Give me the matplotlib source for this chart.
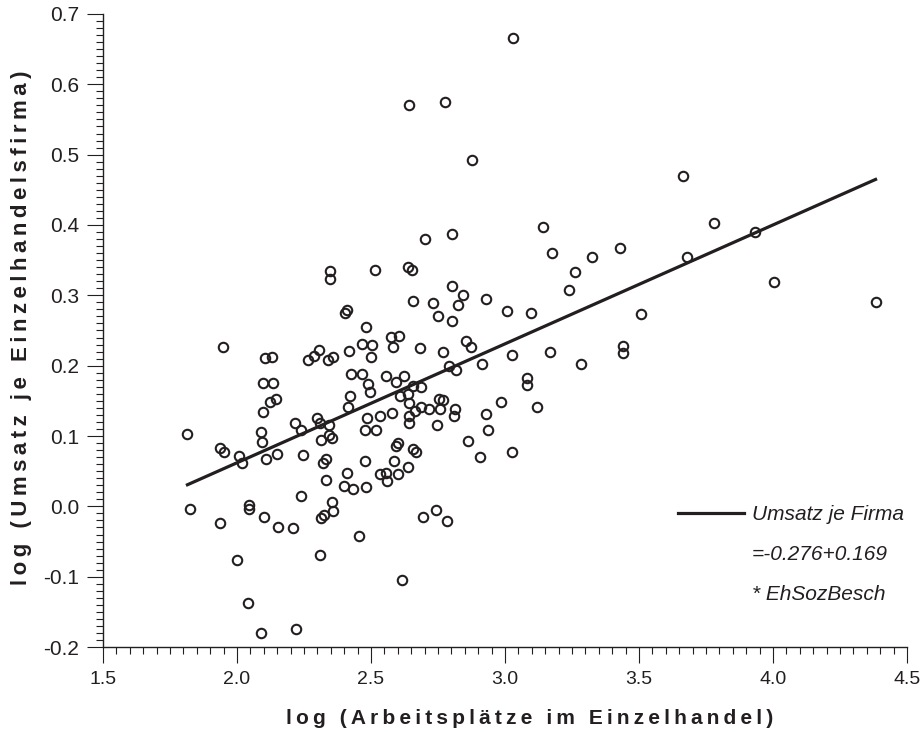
import numpy as np
import matplotlib
matplotlib.use("Agg")
import matplotlib.pyplot as plt
from matplotlib.ticker import MultipleLocator, FormatStrFormatter
from matplotlib.lines import Line2D

plt.rcParams['font.family'] = ['Liberation Sans', 'DejaVu Sans']
plt.rcParams['axes.unicode_minus'] = False

# log (Arbeitsplätze im Einzelhandel)
x_werte = [
    3.031, 2.642, 2.775, 2.876,
    2.347, 2.347, 2.403, 2.409, 1.949, 2.104, 2.129, 2.264, 2.289, 2.307,
    2.338, 2.359, 2.418, 2.098, 2.133, 2.123, 2.146, 2.098, 2.424, 2.420, 2.416,
    1.815, 1.937, 1.951, 2.007, 2.020, 2.090, 2.092, 2.108, 2.150, 2.216,
    2.237, 2.247, 2.297, 2.310, 2.344, 2.312, 2.344, 2.353, 2.332, 2.320,
    2.331, 2.412, 2.401, 1.826, 1.937, 2.046, 2.046, 2.099, 2.154, 2.210,
    2.238, 2.353, 2.359, 2.325, 2.312, 2.000, 2.308, 2.040, 2.088, 2.219,
    2.486, 2.534, 2.577, 2.478, 2.519, 2.643, 2.642, 2.642, 2.664, 2.685,
    2.718, 2.757, 2.770, 2.813, 2.810, 2.745, 2.984, 2.931, 2.935, 2.863,
    2.907, 3.028, 2.593, 2.602, 2.658, 2.667, 2.478, 2.587, 2.534, 2.556,
    2.558, 2.602, 2.639, 2.434, 2.480, 2.693, 2.743, 2.785, 2.456, 2.617,
    2.755,
    2.701, 2.803, 2.515, 2.637, 2.652, 2.801, 2.842, 2.826, 2.929, 3.009,
    3.099, 2.656, 2.732, 2.751, 2.803, 2.480, 2.575, 2.606, 2.583, 2.465,
    2.505, 2.500, 2.683, 2.767, 2.854, 2.873, 3.028, 2.916, 2.791, 2.819,
    2.467, 2.487, 2.496, 2.556, 2.592, 2.623, 2.658, 2.685, 2.639, 2.610,
    3.663, 3.141, 3.781, 3.174, 3.326, 3.429, 3.678, 3.261, 3.239, 3.507,
    3.168, 3.284, 3.439, 3.439, 3.084, 3.082, 3.120,
    3.933, 4.004, 4.383,
]

# log (Umsatz je Einzelhandelsfirma)
y_werte = [
    0.666, 0.571, 0.575, 0.493,
    0.335, 0.323, 0.275, 0.279, 0.227, 0.211, 0.2125, 0.208, 0.214, 0.222,
    0.208, 0.213, 0.221, 0.175, 0.176, 0.149, 0.152, 0.134, 0.188, 0.157, 0.141,
    0.103, 0.0825, 0.077, 0.071, 0.061, 0.106, 0.091, 0.067, 0.075, 0.119,
    0.1085, 0.073, 0.126, 0.118, 0.116, 0.095, 0.101, 0.097, 0.067, 0.061,
    0.0375, 0.048, 0.029, -0.0035, -0.024, 0.002, -0.0035, -0.015, -0.0295, -0.031,
    0.0153, 0.006, -0.0064, -0.012, -0.017, -0.076, -0.069, -0.137, -0.180, -0.174,
    0.1255, 0.129, 0.133, 0.109, 0.1085, 0.147, 0.128, 0.118, 0.136, 0.141,
    0.138, 0.138, 0.151, 0.139, 0.128, 0.115, 0.149, 0.131, 0.109, 0.0934,
    0.0707, 0.078, 0.086, 0.0896, 0.0816, 0.077, 0.065, 0.065, 0.046, 0.0475,
    0.0366, 0.0457, 0.0556, 0.024, 0.027, -0.0153, -0.005, -0.021, -0.0414, -0.105,
    0.153,
    0.380, 0.3865, 0.3355, 0.340, 0.336, 0.313, 0.301, 0.286, 0.295, 0.278,
    0.2755, 0.292, 0.289, 0.270, 0.2635, 0.255, 0.241, 0.2423, 0.226, 0.231,
    0.2295, 0.2125, 0.225, 0.2196, 0.235, 0.227, 0.215, 0.203, 0.200, 0.194,
    0.188, 0.174, 0.163, 0.1847, 0.177, 0.1856, 0.171, 0.169, 0.1596, 0.157,
    0.469, 0.3974, 0.403, 0.3606, 0.354, 0.3676, 0.354, 0.333, 0.3075, 0.274,
    0.2196, 0.2021, 0.228, 0.2177, 0.182, 0.173, 0.1407,
    0.390, 0.319, 0.290,
]

# Regressionsgerade: Umsatz je Firma = -0.276 + 0.169 * EhSozBesch
achsenabschnitt = -0.276
steigung = 0.169

legende_texte = ["Umsatz je Firma", "=-0.276+0.169", "* EhSozBesch"]
x_ticks = [1.5, 2.0, 2.5, 3.0, 3.5, 4.0, 4.5]
y_ticks = [-0.2, -0.1, 0.0, 0.1, 0.2, 0.3, 0.4, 0.5, 0.6, 0.7]

farbe = '#231f20'


def gesperrt(s):
    # Sperrschrift wie im Original (duenne Leerzeichen zwischen den Buchstaben)
    return '\u2009'.join(s)


fig = plt.figure(figsize=(9.24, 7.32), dpi=100)
ax = fig.add_axes([0.1115, 0.116, 0.870, 0.865])

ax.plot(x_werte, y_werte, linestyle='none', marker='o', markersize=6.8,
        markerfacecolor='none', markeredgecolor=farbe, markeredgewidth=1.5)

gx = np.array([min(x_werte), max(x_werte)])
linie, = ax.plot(gx, achsenabschnitt + steigung * gx, color=farbe, linewidth=2.3)

ax.set_xlim(1.5, 4.5)
ax.set_ylim(-0.2, 0.7)
ax.set_xticks(x_ticks)
ax.set_yticks(y_ticks)
ax.xaxis.set_major_formatter(FormatStrFormatter('%.1f'))
ax.yaxis.set_major_formatter(FormatStrFormatter('%.1f'))
ax.xaxis.set_minor_locator(MultipleLocator(0.05))
ax.yaxis.set_minor_locator(MultipleLocator(0.01))

ax.tick_params(which='major', direction='out', length=11.5, width=0.8,
               color=farbe, labelcolor=farbe)
ax.tick_params(which='minor', direction='out', length=5, width=0.8, color=farbe)
ax.tick_params(axis='x', which='major', pad=6, labelsize=14)
ax.tick_params(axis='y', which='major', pad=5.5, labelsize=15)

for s in ['top', 'right']:
    ax.spines[s].set_visible(False)
for s in ['left', 'bottom']:
    ax.spines[s].set_color(farbe)
    ax.spines[s].set_linewidth(1.0)

ax.set_xlabel(gesperrt("log (Arbeitsplätze im Einzelhandel)"), fontsize=15,
              fontweight='bold', color=farbe)
ax.set_ylabel(gesperrt("log (Umsatz je Einzelhandelsfirma)"), fontsize=16,
              fontweight='bold', color=farbe)
ax.xaxis.set_label_coords(0.531, -0.098)
ax.yaxis.set_label_coords(-0.088, 0.505)

leer = Line2D([], [], color='none')
leg = ax.legend([linie, leer, leer], legende_texte, loc='upper left',
                bbox_to_anchor=(0.715, 0.224), frameon=False, borderpad=0,
                borderaxespad=0, handlelength=3.2, handletextpad=0.34,
                labelspacing=1.0, prop={'style': 'italic', 'size': 15})
for t in leg.get_texts():
    t.set_color(farbe)

fig.savefig("out.png", dpi=100)
